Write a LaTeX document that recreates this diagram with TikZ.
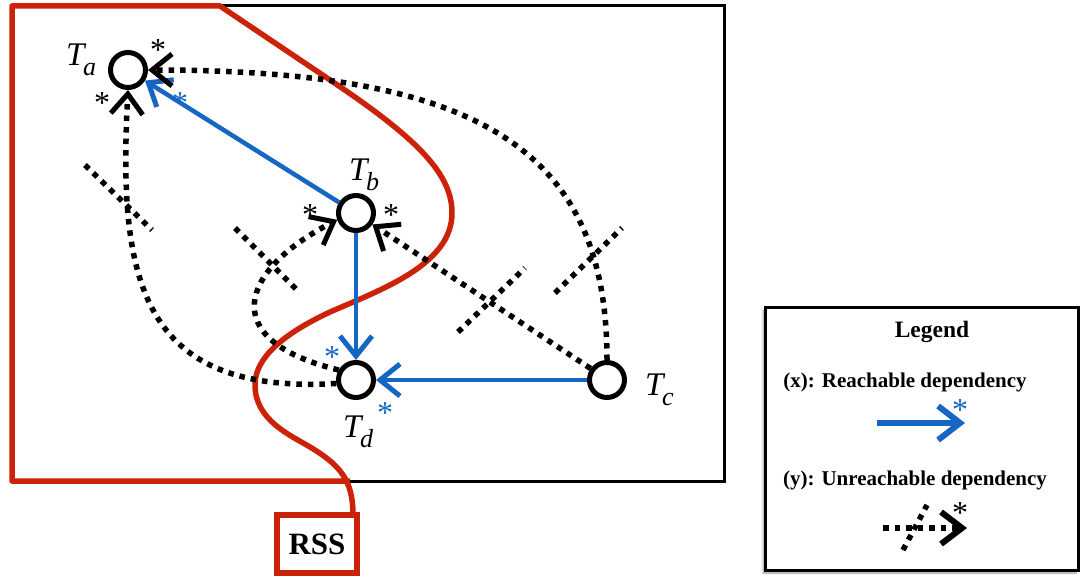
\documentclass[tikz,border=0pt]{standalone}
\usepackage{fontspec}
\setmainfont{Liberation Serif}
\usetikzlibrary{arrows.meta,shadows.blur}
\definecolor{depblue}{RGB}{22,102,196}
\definecolor{rssred}{RGB}{204,34,10}

% task label: italic T with an italic subscript letter
\newcommand{\tname}[1]{\fontsize{33}{36}\selectfont\itshape T\kern-0.04em\raisebox{-0.33em}{\fontsize{26}{28}\selectfont #1}}

\begin{document}
\begin{tikzpicture}[x=1pt,y=-1pt,
  task/.style={circle,draw,line width=5pt,minimum size=35pt,inner sep=0pt},
  tlabel/.style={inner sep=0pt,anchor=base west},
  barb/.style={-{Straight Barb[length=20pt,width=32pt,line width'=5pt]}},
  reach/.style={depblue,line width=4.5pt,barb},
  unreach/.style={line width=5.5pt,dash pattern=on 5.5pt off 6pt,barb},
  strike/.style={line width=5.5pt,dash pattern=on 5.5pt off 6pt},
  mult/.style={inner sep=0pt,font=\fontsize{32}{34}\selectfont,yshift=-5pt},
  legtext/.style={inner sep=0pt,font=\fontsize{21}{24}\selectfont\bfseries},
]
\useasboundingbox (0,0) rectangle (1083,578);

% system frame
\draw[line width=3pt] (12,6) rectangle (724,481);

% RSS region boundary
\draw[rssred,line width=5.5pt,line join=round]
  (350,481) -- (12,481) -- (12,6) -- (220,6) -- (330,80)
  .. controls (420,140) and (452,175) .. (452,213)
  .. controls (452,265) and (380,290) .. (330,312)
  .. controls (270,340) and (255,365) .. (255,385)
  .. controls (255,420) and (290,435) .. (310,447)
  .. controls (340,465) and (353,480) .. (353,515);
\node[draw=rssred,line width=5.5pt,minimum width=80pt,minimum height=58pt,inner sep=0pt]
  (rss) at (317,544) {\fontsize{31}{34}\selectfont\bfseries RSS};

% tasks
\node[task] (Ta) at (128,70) {};
\node[task] (Tb) at (356,213) {};
\node[task] (Td) at (356,380) {};
\node[task] (Tc) at (607,380) {};

\node[tlabel] (la) at (66,65) {\tname{a}};
\node[tlabel] (lb) at (349,180) {\tname{b}};
\node[tlabel] (ld) at (343,437) {\tname{d}};
\node[tlabel] (lc) at (645,395) {\tname{c}};

% reachable dependencies
\draw[reach] (Tb) -- (Ta);
\draw[reach] (Tb) -- (Td);
\draw[reach] (Tc) -- (Td);

% unreachable dependencies
\draw[unreach] (Tc.north) .. controls (607,150) and (480,70) .. (Ta.east);
\draw[unreach] (Tc.145) -- (Tb.-35);
\draw[unreach] (Td.150) .. controls (215,340) and (240,270) .. (Tb.200);
\draw[unreach] (Td.190) .. controls (140,395) and (118,280) .. (Ta.south);

% strikes marking unreachable dependencies
\coordinate (s1a) at (85,165);  \coordinate (s1b) at (152,230);
\coordinate (s2a) at (235,228); \coordinate (s2b) at (300,293);
\coordinate (s3a) at (458,332); \coordinate (s3b) at (525,268);
\coordinate (s4a) at (555,293); \coordinate (s4b) at (622,228);
\draw[strike] (s1a) -- (s1b);
\draw[strike] (s2a) -- (s2b);
\draw[strike] (s3a) -- (s3b);
\draw[strike] (s4a) -- (s4b);

% multiplicity marks
\node[mult] (m1) at (158,45) {*};
\node[mult] (m2) at (102,98) {*};
\node[mult] (m3) at (310,210) {*};
\node[mult] (m4) at (391,210) {*};
\node[mult,text=depblue] (m5) at (180,98) {*};
\node[mult,text=depblue] (m6) at (332,352) {*};
\node[mult,text=depblue] (m7) at (385,408) {*};

% legend
\node[draw,line width=3pt,fill=white,minimum width=313pt,minimum height=263pt,
  blur shadow={shadow xshift=-2pt,shadow yshift=-3pt,shadow blur steps=6}]
  (legend) at (921.5,438.5) {};
\node[legtext,font=\fontsize{23.5}{26}\selectfont\bfseries] (lt) at (932,332) {Legend};
\node[legtext] (lx) at (905,382) {(x): Reachable dependency};
\node[legtext] (ly) at (915,480) {(y): Unreachable dependency};
\coordinate (ra) at (877,423); \coordinate (rb) at (965,423);
\draw[depblue,line width=6pt,-{Straight Barb[length=22pt,width=34pt,line width'=6pt]}] (ra) -- (rb);
\node[mult,text=depblue] (m8) at (960,405) {*};
\coordinate (ua) at (883,528); \coordinate (ub) at (967,528);
\draw[line width=5.5pt,dash pattern=on 5.5pt off 6pt,-{Straight Barb[length=21pt,width=32pt,line width'=6pt]}] (ua) -- (ub);
\coordinate (uc) at (903,550); \coordinate (ud) at (927,505);
\draw[line width=5.5pt,dash pattern=on 5.5pt off 6pt] (uc) -- (ud);
\node[mult] (m9) at (960,508) {*};
\end{tikzpicture}
\end{document}
